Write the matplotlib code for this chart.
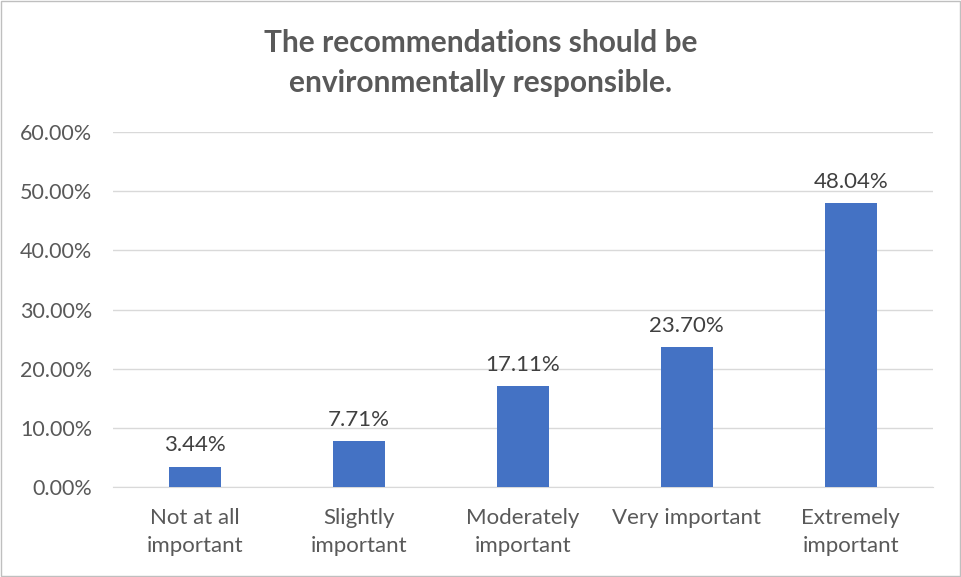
import matplotlib.pyplot as plt
import numpy as np

categories = ["Not at all\nimportant", "Slightly\nimportant", "Moderately\nimportant",
              "Very important", "Extremely\nimportant"]
values = [3.44, 7.71, 17.11, 23.70, 48.04]
yticks = [0, 10, 20, 30, 40, 50, 60]

plt.rcParams['font.family'] = ['Lato', 'DejaVu Sans']
gray = '#595959'

fig = plt.figure(figsize=(9.61, 5.77), dpi=100)
ax = fig.add_axes([0.1176, 0.156, 0.853, 0.615])

x = np.arange(len(categories))
ax.bar(x, values, width=0.32, color='#4472c4', zorder=3)
for xi, v in zip(x, values):
    ax.text(xi, v + 1.9, f"{v:.2f}%", ha='center', va='bottom', fontsize=16, color='#404040')

ax.set_xlim(-0.5, len(categories) - 0.5)
ax.set_ylim(0, 60)
ax.set_yticks(yticks)
ax.set_yticklabels([f"{t:.2f}%" for t in yticks], fontsize=15.5, color=gray)
ax.set_xticks(x)
ax.set_xticklabels(categories, fontsize=16, color=gray, linespacing=1.5)
ax.grid(axis='y', color='#d9d9d9', linewidth=1, zorder=0)
ax.tick_params(axis='y', length=0, pad=15)
ax.tick_params(axis='x', length=0, pad=15)
for s in ['top', 'right', 'left']:
    ax.spines[s].set_visible(False)
ax.spines['bottom'].set_color('#d9d9d9')

fig.text(0.5, 0.891, "The recommendations should be\nenvironmentally responsible.",
         ha='center', va='center', fontsize=21.5, fontweight='bold', color=gray, linespacing=1.5)

fig.patches.append(plt.Rectangle((0.001, 0.001), 0.998, 0.998, transform=fig.transFigure,
                                 fill=False, edgecolor='#bfbfbf', linewidth=1))

fig.savefig('out.png', dpi=100)
